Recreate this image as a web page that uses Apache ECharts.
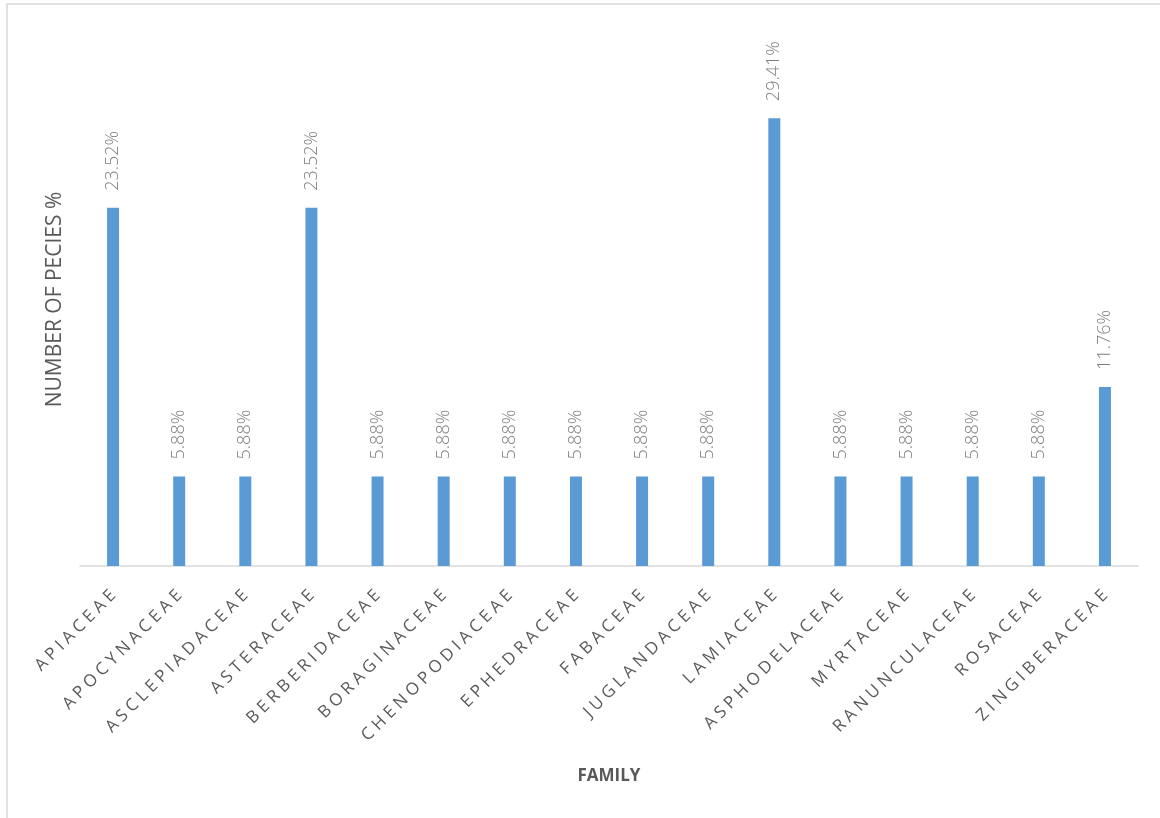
<!DOCTYPE html>
<html>
<head>
<meta charset="utf-8">
<script src="https://cdn.jsdelivr.net/npm/echarts@6/dist/echarts.min.js"></script>
<style>
  html, body { margin: 0; padding: 0; background: #fff; }
  #chart { width: 1160px; height: 818px; }
</style>
</head>
<body>
<div id="chart"></div>
<script>
const families = [
  'APIACEAE', 'APOCYNACEAE', 'ASCLEPIADACEAE', 'ASTERACEAE', 'BERBERIDACEAE',
  'BORAGINACEAE', 'CHENOPODIACEAE', 'EPHEDRACEAE', 'FABACEAE', 'JUGLANDACEAE',
  'LAMIACEAE', 'ASPHODELACEAE', 'MYRTACEAE', 'RANUNCULACEAE', 'ROSACEAE', 'ZINGIBERACEAE'
]
const speciesPct = [
  23.52, 5.88, 5.88, 23.52, 5.88,
  5.88, 5.88, 5.88, 5.88, 5.88,
  29.41, 5.88, 5.88, 5.88, 5.88, 11.76
]

const chart = echarts.init(document.getElementById('chart'))

const option = {
  backgroundColor: '#fff',
  textStyle: { fontFamily: 'Open Sans' },
  graphic: [
    {
      // chart frame (only top and left edges are inside the picture)
      type: 'rect',
      shape: { x: 7, y: 4, width: 1300, height: 900 },
      style: { fill: 'none', stroke: '#d9d9d9', lineWidth: 1.5 },
      silent: true
    }
  ],
  grid: {
    left: 80,
    right: 22,
    top: 33,
    bottom: 252
  },
  xAxis: {
    type: 'category',
    data: families,
    name: 'FAMILY',
    nameLocation: 'middle',
    nameGap: 202,
    nameTextStyle: { color: '#595959', fontSize: 17, fontWeight: 'bold' },
    axisLine: { lineStyle: { color: '#d9d9d9', width: 1.5 } },
    axisTick: { show: false },
    axisLabel: {
      interval: 0,
      rotate: 45,
      margin: 27,
      color: '#595959',
      fontSize: 17,
      // spaced-out letters like the original
      formatter: v => v.split('').join('\u2005')
    }
  },
  yAxis: {
    type: 'value',
    min: 0,
    max: 35,
    name: 'NUMBER OF PECIES %',
    nameLocation: 'middle',
    nameGap: 14,
    nameTextStyle: { color: '#595959', fontSize: 21 },
    axisLine: { show: false },
    axisTick: { show: false },
    axisLabel: { show: false },
    splitLine: { show: false }
  },
  series: [
    {
      type: 'bar',
      data: speciesPct,
      barWidth: 12,
      itemStyle: { color: '#5b9bd5' },
      label: {
        show: true,
        position: 'top',
        rotate: 90,
        align: 'left',
        verticalAlign: 'middle',
        distance: 17,
        color: '#7f7f7f',
        fontSize: 18,
        fontWeight: 300,
        formatter: p => p.value.toFixed(2) + '%'
      }
    }
  ]
}

chart.setOption(option)
window.onresize = function () {
  chart.resize()
}
</script>
</body>
</html>
